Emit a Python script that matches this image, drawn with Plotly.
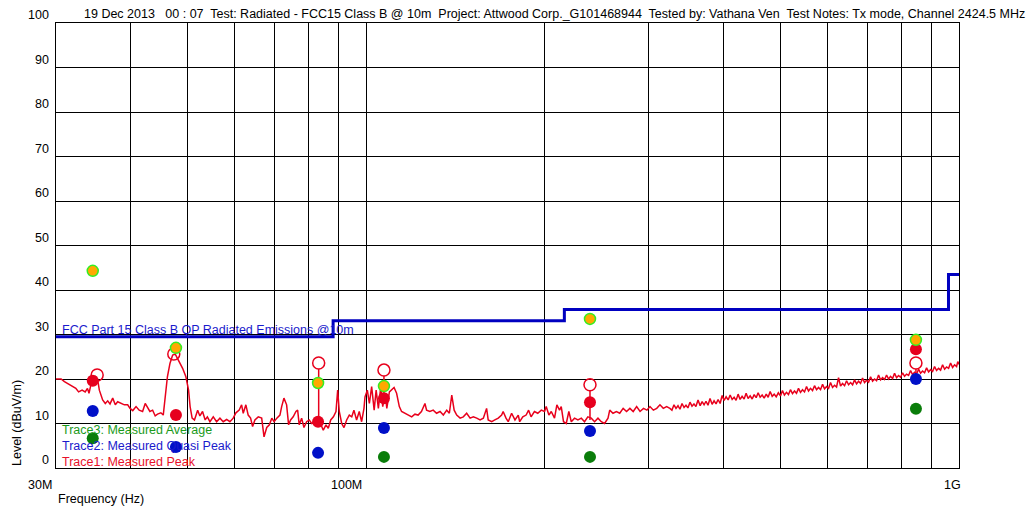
import math
import plotly.graph_objects as go

# ---------------- data ----------------
title_text = ("19 Dec 2013   00 : 07  Test: Radiated - FCC15 Class B @ 10m  Project: Attwood Corp._G101468944"
              "  Tested by: Vathana Ven  Test Notes: Tx mode, Channel 2424.5 MHz")

# Trace1 (measured peak sweep), 30 MHz - 325 MHz
trace_freq_low = [
    30.0, 30.6, 31.0, 31.6, 32.0, 32.4, 32.75, 33.2, 33.6, 33.9, 34.1, 34.4, 34.64, 35.0, 35.27, 35.5,
    35.96, 36.33, 36.67, 37.0, 37.39, 37.77, 38.12, 38.62, 39.12, 39.63, 40.0, 40.42, 40.94, 41.44,
    41.99, 42.42, 42.81, 43.2, 43.66, 44.1, 44.5, 45.08, 45.5, 45.82, 46.24, 46.7, 47.19, 47.67, 48.1,
    48.54, 49.05, 49.68, 50.2, 50.5, 50.9, 51.36, 52.0, 52.45, 53.0, 53.54, 54.0, 54.54, 55.25, 55.97,
    56.7, 57.43, 58.2, 58.94, 59.7, 60.33, 61.1, 61.68, 62.07, 62.71, 63.28, 63.87, 64.37, 64.95, 65.8,
    66.68, 67.29, 68.0, 68.7, 69.35, 69.98, 70.72, 71.58, 72.06, 72.7, 73.46, 74.03, 74.6, 75.36, 76.17,
    76.67, 77.15, 77.87, 78.57, 79.4, 80.21, 80.96, 82.0, 82.75, 83.4, 84.0, 84.7, 85.6, 86.36, 87.17,
    88.1, 88.98, 89.57, 90.13, 90.98, 91.8, 92.75, 93.7, 94.6, 95.4, 96.4, 97.4, 98.3, 99.2, 99.6,
    100.5, 101.3, 102.2, 103.2, 104.0, 104.9, 105.9, 106.7, 107.7, 108.4, 109.5, 110.5, 111.5, 112.6,
    113.8, 114.8, 116.3, 117.8, 119.4, 120.9, 122.4, 124.0, 125.7, 126.5, 128.1, 129.8, 131.5, 133.3,
    135.0, 136.8, 138.2, 139.5, 140.8, 142.2, 144.1, 145.9, 147.8, 149.8, 151.7, 153.7, 155.7, 157.7,
    159.7, 160.7, 162.9, 164.9, 167.1, 169.3, 170.3, 172.2, 173.7, 176.0, 178.3, 180.6, 181.6, 183.8,
    186.2, 188.0, 189.8, 192.3, 194.8, 197.5, 200.0, 201.3, 203.4, 205.3, 207.9, 209.8, 212.0, 213.4,
    215.3, 217.6, 219.8, 221.9, 224.7, 227.7, 230.7, 233.6, 236.6, 239.8, 242.9, 246.1, 249.3, 252.5,
    255.9, 257.6, 260.9, 264.4, 267.8, 271.4, 275.0, 278.6, 282.2, 286.0, 289.8, 293.7, 297.6, 301.2,
    305.2, 309.2, 313.1, 317.2, 321.3, 325.4,
]
trace_level_low = [
    20.0, 20.0, 19.4, 18.7, 18.4, 17.9, 17.1, 17.5, 17.1, 17.9, 16.8, 19.0, 19.8, 20.5, 19.8, 17.5,
    15.3, 14.5, 15.1, 14.4, 15.7, 14.2, 14.9, 14.5, 14.2, 14.2, 13.4, 12.9, 13.8, 13.0,
    12.7, 14.5, 13.4, 12.7, 13.0, 11.7, 12.1, 12.4, 11.9, 15.7, 20.5, 23.5, 25.4, 25.6, 24.7,
    23.5, 22.4, 20.5, 17.5, 13.8, 11.2, 10.8, 13.0, 11.7, 12.7, 10.8, 11.5, 10.4, 11.5, 10.4,
    11.2, 10.4, 10.9, 10.4, 11.2, 12.4, 13.0, 14.2, 12.3, 14.2, 11.9, 11.2, 9.3, 10.8, 11.5,
    11.2, 7.0, 9.1, 9.7, 11.2, 10.4, 11.2, 11.9, 13.8, 15.7, 14.2, 9.7, 10.8, 11.5, 12.7,
    13.0, 9.7, 11.2, 9.1, 10.4, 10.8, 10.0, 10.4, 10.0, 10.6, 9.7, 8.5, 9.7, 8.9, 10.8,
    11.5, 12.7, 17.5, 12.7, 10.0, 9.1, 10.8, 11.9, 11.5, 13.0, 10.8, 12.7, 10.4, 13.4, 16.0,
    17.5, 14.5, 18.3, 13.0, 17.5, 13.4, 18.3, 13.8, 16.8, 13.4, 17.1, 17.5, 18.1, 16.8,
    13.8, 12.7, 12.3, 11.9, 11.5, 12.1, 11.9, 12.7, 14.5, 13.0, 12.7, 13.0, 12.3, 12.7,
    11.9, 13.0, 12.3, 16.4, 13.0, 11.9, 11.2, 11.5, 12.3, 11.2, 11.5, 11.2, 10.8, 11.2,
    13.4, 10.8, 10.4, 10.8, 11.2, 11.9, 12.7, 11.2, 10.4, 12.3, 10.8, 11.9, 10.4, 11.5,
    11.9, 13.0, 11.5, 12.7, 12.3, 13.0, 12.7, 13.8, 11.9, 12.7, 11.2, 14.2, 13.0, 13.8,
    10.4, 10.0, 12.7, 10.4, 11.2, 10.8, 11.2, 10.4, 11.5, 11.2, 10.4, 11.2, 10.4, 10.0,
    11.2, 13.0, 12.3, 12.7, 12.3, 13.4, 12.7, 13.4, 12.7, 13.8, 12.7, 13.4, 13.0, 13.8,
    13.0, 13.4, 14.2, 13.4, 13.8, 13.4,
]
assert len(trace_freq_low) == len(trace_level_low)

# Trace1, 328 MHz - 1 GHz (dense noisy band), (freq MHz, level dBuV/m)
trace_samples_high = [
    (328.0, 13.0), (330.6, 14.2), (333.2, 13.4), (335.8, 14.0), (338.4, 13.2), (341.1, 14.5),
    (343.8, 13.6), (346.4, 14.1), (349.0, 13.5), (351.8, 14.8), (354.6, 13.9), (357.3, 14.4),
    (360.0, 13.8), (363.0, 15.3), (366.0, 14.0), (368.8, 14.9), (371.6, 14.2), (374.4, 15.0),
    (377.3, 14.1), (380.3, 15.6), (383.4, 14.3), (386.3, 15.1), (389.3, 14.4), (392.4, 15.4),
    (395.5, 14.5), (398.6, 16.3), (401.7, 15.2), (404.8, 16.0), (408.0, 15.3), (411.2, 16.4),
    (414.4, 15.4), (417.6, 15.9), (420.8, 15.2), (424.1, 16.6), (427.4, 15.4), (430.7, 16.1),
    (434.1, 15.5), (437.5, 16.8), (440.9, 15.6), (444.4, 16.2), (447.9, 15.5), (451.4, 16.5),
    (454.9, 15.8), (458.4, 16.9), (462.0, 15.9), (465.6, 16.4), (469.3, 15.7), (473.0, 16.6),
    (476.6, 15.9), (480.3, 17.2), (484.1, 16.1), (487.9, 16.6), (491.7, 16.0), (495.8, 16.9),
    (500.0, 16.2), (503.8, 17.4), (507.7, 16.4), (511.7, 17.0), (515.7, 16.5), (519.7, 17.6),
    (523.8, 16.7), (527.9, 17.3), (532.0, 16.8), (536.2, 17.9), (540.4, 17.0), (544.6, 17.6),
    (548.9, 17.1), (553.2, 18.3), (557.5, 17.3), (561.8, 17.9), (566.2, 17.4), (570.6, 18.5),
    (575.1, 17.6), (579.6, 18.1), (584.1, 17.6), (588.7, 18.8), (593.3, 17.8), (597.9, 18.3),
    (602.6, 17.9), (607.2, 19.2), (612.0, 18.1), (616.8, 18.6), (621.6, 18.2), (626.4, 20.3),
    (631.3, 18.4), (636.2, 19.0), (641.2, 18.5), (646.2, 19.6), (651.3, 18.7), (656.4, 19.2),
    (661.5, 18.7), (666.6, 19.8), (671.8, 18.9), (677.0, 19.5), (682.3, 19.0), (687.6, 20.2),
    (693.0, 19.2), (698.4, 19.7), (703.9, 19.3), (709.4, 20.5), (714.9, 19.5), (720.5, 20.0),
    (726.1, 19.6), (731.7, 20.9), (737.4, 19.8), (743.2, 20.3), (749.0, 19.9), (754.8, 20.9),
    (760.7, 20.0), (766.6, 20.6), (772.6, 20.1), (778.6, 21.3), (784.7, 20.3), (790.8, 20.8),
    (797.0, 20.4), (803.2, 21.4), (809.5, 20.6), (815.8, 21.1), (822.2, 20.8), (828.6, 21.9),
    (835.0, 21.0), (841.5, 21.5), (848.1, 21.1), (854.7, 22.2), (861.4, 21.3), (868.1, 21.8),
    (874.9, 21.4), (881.7, 22.5), (888.6, 21.6), (895.5, 22.1), (902.5, 21.7), (909.5, 22.8),
    (916.6, 21.9), (923.8, 22.4), (931.0, 22.0), (938.3, 23.2), (945.6, 22.2), (953.0, 22.7),
    (960.4, 22.4), (967.9, 23.6), (975.4, 22.6), (983.0, 23.2), (990.7, 22.8), (995.3, 23.9),
    (1000.0, 23.3),
]

limit_freq = [30, 88, 216, 960, 1000]
limit_level = [29.5, 33.1, 35.6, 43.5, 43.5]
limit_label = "FCC Part 15 Class B QP Radiated Emissions @10m"

meas_freq = [34.6, 47.8, 83.0, 107.2, 238.6, 846.0]
peak_open_freq = [35.2, 47.4, 83.2, 107.2, 238.6, 846.0]
peak_open_level = [20.9, 25.6, 23.6, 22.0, 18.7, 23.6]
peak_stem_base = [20.9, 25.6, 10.0, 16.8, 10.8, 21.2]
peak_level = [19.6, 11.9, 10.4, 15.7, 14.8, 26.7]
qp_level = [12.8, 4.7, 3.4, 9.0, 8.3, 20.0]
avg_level = [6.7, -1.5, -4.0, 2.5, 2.5, 13.3]
marker_level = [44.3, 27.0, 19.1, 18.4, 33.5, 28.8]

x_grid = [30, 40, 50, 60, 70, 80, 90, 100, 200, 300, 400, 500, 600, 700, 800, 900, 1000]
x_tick_vals = [30, 100, 1000]
x_tick_text = ["30M", "100M", "1G"]
y_tick_vals = [0, 10, 20, 30, 40, 50, 60, 70, 80, 90, 100]
x_title = "Frequency (Hz)"
y_title = "Level (dBuV/m)"
legend_names = ["Trace3: Measured Average", "Trace2: Measured Quasi Peak", "Trace1: Measured Peak"]
legend_colors = ["#1a9a1a", "#1a1acc", "#e8102a"]

trace_freq = trace_freq_low + [f for f, _ in trace_samples_high]
trace_level = trace_level_low + [v for _, v in trace_samples_high]

# ---------------- style ----------------
W, H = 1028, 511
ML, MR, MT, MB = 56, 69, 23, 43
FONT = "Liberation Sans, Arial, sans-serif"
FS = 12.5
RED = "#e8001c"
BLUE = "#0000c0"
MSIZE = 12
px_per_db = (H - MT - MB) / 100.0
r_db = (MSIZE / 2) / px_per_db

fig = go.Figure()

fig.add_trace(go.Scatter(x=trace_freq, y=trace_level, mode="lines",
                         line=dict(color=RED, width=1.5), hoverinfo="skip"))
fig.add_trace(go.Scatter(x=limit_freq, y=limit_level, mode="lines",
                         line=dict(color=BLUE, width=3, shape="hv"), hoverinfo="skip"))

sx, sy = [], []
for f, top, base in zip(peak_open_freq, peak_open_level, peak_stem_base):
    if base < top - r_db:
        sx += [f, f, None]
        sy += [top - r_db, base, None]
fig.add_trace(go.Scatter(x=sx, y=sy, mode="lines", line=dict(color=RED, width=1.5), hoverinfo="skip"))

fig.add_trace(go.Scatter(x=peak_open_freq, y=peak_open_level, mode="markers",
                         marker=dict(symbol="circle-open", size=MSIZE, color=RED, line=dict(width=1.5))))
fig.add_trace(go.Scatter(x=meas_freq, y=avg_level, mode="markers",
                         marker=dict(size=MSIZE, color="#0a7d0a", line=dict(width=0))))
fig.add_trace(go.Scatter(x=meas_freq, y=qp_level, mode="markers",
                         marker=dict(size=MSIZE, color="#0010c8", line=dict(width=0))))
fig.add_trace(go.Scatter(x=meas_freq, y=peak_level, mode="markers",
                         marker=dict(size=MSIZE, color="#e6001e", line=dict(width=0))))
fig.add_trace(go.Scatter(x=meas_freq, y=marker_level, mode="markers",
                         marker=dict(size=MSIZE - 1, color="#ffa800", line=dict(width=1.5, color="#33ee22"))))

ann = []
ann.append(dict(text=title_text, xref="paper", yref="paper", x=0, y=1, xanchor="left", yanchor="middle",
                xshift=26, yshift=9, showarrow=False, font=dict(size=FS, color="#000")))
for v in y_tick_vals:
    ann.append(dict(text=str(v), xref="paper", yref="y", x=0, y=v, xanchor="right", yanchor="bottom",
                    xshift=-5, yshift=-1, showarrow=False, font=dict(size=FS, color="#000")))
for i, (v, t) in enumerate(zip(x_tick_vals, x_tick_text)):
    last = i == len(x_tick_vals) - 1
    ann.append(dict(text=t, xref="x", yref="paper", x=math.log10(v), y=0,
                    xanchor="right", yanchor="top", xshift=(4 if last else -2), yshift=-8,
                    showarrow=False, font=dict(size=FS, color="#000")))
ann.append(dict(text=x_title, xref="paper", yref="paper", x=0, y=0, xanchor="left", yanchor="middle",
                xshift=0, yshift=-31, showarrow=False, font=dict(size=FS, color="#000")))
ann.append(dict(text=y_title, xref="paper", yref="paper", x=0, y=0, xanchor="center", yanchor="bottom",
                textangle=-90, xshift=-39, yshift=0, showarrow=False, font=dict(size=FS, color="#000")))
ann.append(dict(text=limit_label, xref="paper", yref="y", x=0, y=limit_level[0], xanchor="left",
                yanchor="bottom", xshift=4, yshift=-2, showarrow=False, font=dict(size=FS, color="#1a1acc")))
for i, (name, col) in enumerate(zip(legend_names, legend_colors)):
    ann.append(dict(text=name, xref="paper", yref="paper", x=0, y=0, xanchor="left", yanchor="middle",
                    xshift=4, yshift=38 - 16 * i, showarrow=False, font=dict(size=FS, color=col)))

fig.update_layout(
    width=W, height=H, margin=dict(l=ML, r=MR, t=MT, b=MB),
    paper_bgcolor="white", plot_bgcolor="white", showlegend=False,
    font=dict(family=FONT, size=FS, color="#000"),
    annotations=ann,
    xaxis=dict(type="log", range=[math.log10(30), 3], tickvals=x_grid,
               showticklabels=False, ticks="", showgrid=True, gridcolor="#000", gridwidth=1,
               showline=True, linecolor="#000", linewidth=1, mirror=True, zeroline=False, fixedrange=True),
    yaxis=dict(range=[0, 100], tickvals=y_tick_vals, showticklabels=False, ticks="", showgrid=True,
               gridcolor="#000", gridwidth=1, showline=True, linecolor="#000", linewidth=1, mirror=True,
               zeroline=False, fixedrange=True),
)

fig.write_html("out.html", config={"displayModeBar": False})
